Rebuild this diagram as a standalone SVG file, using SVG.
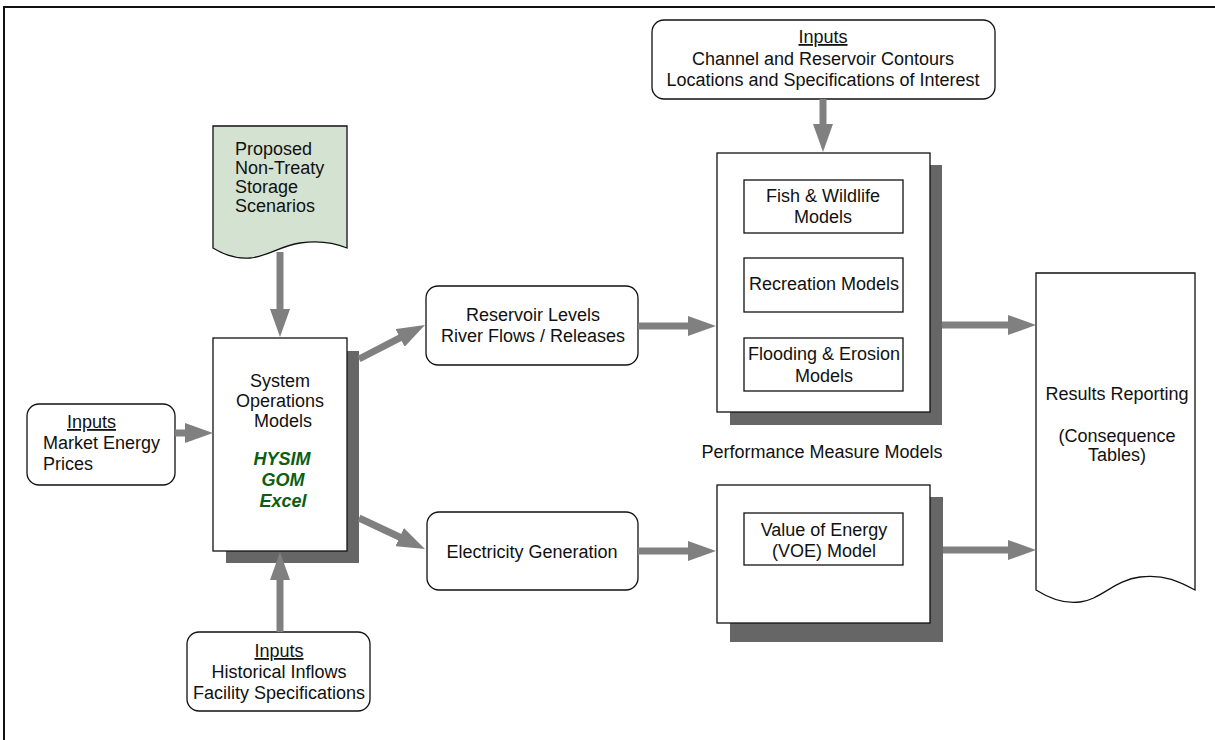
<svg xmlns="http://www.w3.org/2000/svg" width="1215" height="740" viewBox="0 0 1215 740">
  <style>
    text { font-family: "Liberation Sans", Arial, sans-serif; font-size: 18px; fill: #111; }
    .c { text-anchor: middle; }
    .u { text-decoration: underline; }
    .tool { font-weight: bold; font-style: italic; fill: #0b5e13; }
    .box { fill: #fff; stroke: #111; stroke-width: 1.3; }
    .shadow { fill: #666; }
    .doc { fill: #d4e3d1; stroke: #111; stroke-width: 1.3; }
    .flow { stroke: #808080; stroke-width: 7; fill: none; marker-end: url(#head); }
  </style>
  <defs>
    <marker id="head" markerUnits="userSpaceOnUse" viewBox="0 0 28 20" markerWidth="28" markerHeight="20" refX="8" refY="10" orient="auto">
      <path d="M0,0 L28,10 L0,20 Z" fill="#808080"/>
    </marker>
  </defs>

  <rect width="1215" height="740" fill="#fff"/>
  <!-- page frame -->
  <path d="M4,745 L4,7 L1220,7" fill="none" stroke="#111" stroke-width="2"/>

  <!-- storage scenarios document -->
  <g id="scenarios">
    <path class="doc" d="M213,126 L347,126 L347,248 C335,243 320,240 300,243 C280,246 266,257 250,258 C238,259 226,256 213,248 Z"/>
    <text x="235" y="155">Proposed</text>
    <text x="235" y="174">Non-Treaty</text>
    <text x="235" y="193">Storage</text>
    <text x="235" y="212">Scenarios</text>
  </g>

  <!-- system operations models -->
  <g id="sysops">
    <rect class="shadow" x="226" y="351" width="133" height="212"/>
    <rect class="box" x="213" y="338" width="134" height="213"/>
    <text class="c" x="280" y="387">System</text>
    <text class="c" x="280" y="407">Operations</text>
    <text class="c" x="283" y="427">Models</text>
    <text class="c tool" x="282" y="465">HYSIM</text>
    <text class="c tool" x="283" y="486">GOM</text>
    <text class="c tool" x="283" y="507">Excel</text>
  </g>

  <!-- market energy inputs -->
  <g id="market">
    <rect class="box" x="27" y="404" width="148" height="81" rx="12"/>
    <text class="u" x="67" y="428">Inputs</text>
    <text x="43" y="449">Market Energy</text>
    <text x="43" y="470">Prices</text>
  </g>

  <!-- historical inputs -->
  <g id="historical">
    <rect class="box" x="187" y="632" width="183" height="79" rx="12"/>
    <text class="c u" x="279" y="657">Inputs</text>
    <text class="c" x="279" y="678">Historical Inflows</text>
    <text class="c" x="279" y="699">Facility Specifications</text>
  </g>

  <!-- reservoir levels -->
  <g id="reservoir">
    <rect class="box" x="426" y="286" width="212" height="79" rx="12"/>
    <text class="c" x="533" y="321">Reservoir Levels</text>
    <text class="c" x="533" y="342">River Flows / Releases</text>
  </g>

  <!-- electricity generation -->
  <g id="electricity">
    <rect class="box" x="427" y="512" width="211" height="78" rx="12"/>
    <text class="c" x="532" y="558">Electricity Generation</text>
  </g>

  <!-- channel and reservoir inputs -->
  <g id="contours">
    <rect class="box" x="652" y="20" width="343" height="79" rx="12"/>
    <text class="c u" x="823" y="43">Inputs</text>
    <text class="c" x="823" y="65">Channel and Reservoir Contours</text>
    <text class="c" x="823" y="86">Locations and Specifications of Interest</text>
  </g>

  <!-- environmental performance models -->
  <g id="envmodels">
    <rect class="shadow" x="730" y="165" width="212" height="260"/>
    <rect class="box" x="717" y="153" width="213" height="259"/>
    <rect class="box" x="744" y="180" width="159" height="53"/>
    <text class="c" x="823" y="202">Fish &amp; Wildlife</text>
    <text class="c" x="823" y="223">Models</text>
    <rect class="box" x="744" y="258" width="159" height="54"/>
    <text class="c" x="824" y="290">Recreation Models</text>
    <rect class="box" x="744" y="338" width="159" height="53"/>
    <text class="c" x="824" y="360">Flooding &amp; Erosion</text>
    <text class="c" x="824" y="382">Models</text>
  </g>

  <text id="pm-label" class="c" x="822" y="458">Performance Measure Models</text>

  <!-- value of energy model -->
  <g id="voe">
    <rect class="shadow" x="730" y="497" width="213" height="145"/>
    <rect class="box" x="717" y="485" width="213" height="138"/>
    <rect class="box" x="744" y="513" width="159" height="52"/>
    <text class="c" x="824" y="536">Value of Energy</text>
    <text class="c" x="824" y="557">(VOE) Model</text>
  </g>

  <!-- results reporting document -->
  <g id="results">
    <path class="box" d="M1036,273 L1195,273 L1195,590 C1180,582 1165,574 1140,577 C1115,580 1100,600 1080,602 C1066,604 1052,600 1036,590 Z"/>
    <text class="c" x="1117" y="400">Results Reporting</text>
    <text class="c" x="1117" y="442">(Consequence</text>
    <text class="c" x="1117" y="461">Tables)</text>
  </g>

  <!-- flow arrows -->
  <g id="connectors">
    <line class="flow" x1="280" y1="252" x2="280" y2="317"/>
    <line class="flow" x1="280" y1="632" x2="280" y2="572"/>
    <line class="flow" x1="175" y1="433" x2="193" y2="433"/>
    <line class="flow" x1="359" y1="359" x2="407.2" y2="334.2"/>
    <line class="flow" x1="359" y1="518" x2="406.9" y2="540.5"/>
    <line class="flow" x1="638" y1="326" x2="696" y2="326"/>
    <line class="flow" x1="638" y1="551" x2="696" y2="551"/>
    <line class="flow" x1="823" y1="99" x2="823" y2="132"/>
    <line class="flow" x1="942" y1="325" x2="1016" y2="325"/>
    <line class="flow" x1="943" y1="550" x2="1016" y2="550"/>
  </g>
</svg>
